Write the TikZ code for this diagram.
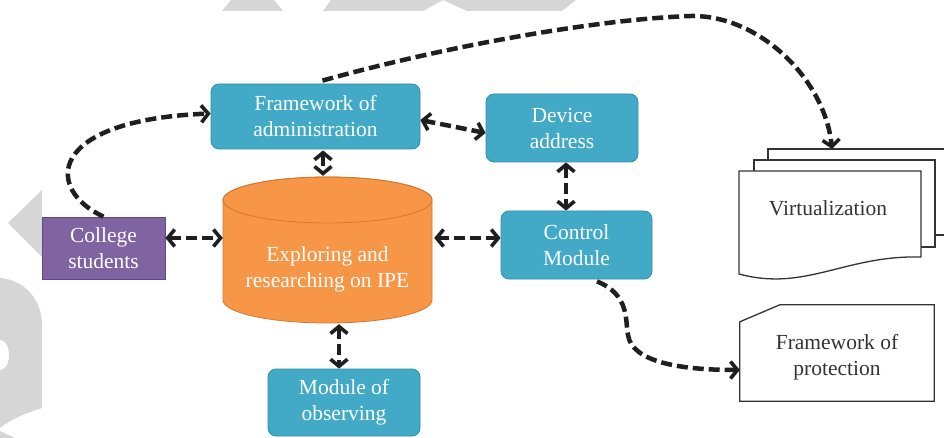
\documentclass[tikz,border=0pt]{standalone}
\usepackage{fontspec}
\setmainfont{Liberation Serif}
\usetikzlibrary{arrows.meta}

\definecolor{boxblue}{HTML}{42AAC7}
\definecolor{boxline}{HTML}{2F8FAB}
\definecolor{cylorange}{HTML}{F79646}
\definecolor{cylline}{HTML}{D4782F}
\definecolor{stupurple}{HTML}{8064A2}
\definecolor{stuline}{HTML}{5E4A80}
\definecolor{docline}{HTML}{333333}
\definecolor{wmgrey}{HTML}{D6D6D6}

\begin{document}
\begin{tikzpicture}[x=1pt, y=-1pt,
    lbl/.style={align=center, font=\fontsize{21.5}{26}\selectfont},
    box/.style={lbl, draw=boxline, fill=boxblue, line width=0.8pt, rounded corners=8pt, text=white, inner sep=0pt},
    doc/.style={draw=docline, fill=white, line width=1.3pt},
    conn/.style={line width=4.5pt, dash pattern=on 11pt off 5pt, black!88},
    both/.style={conn, {Straight Barb[length=7pt,width=17pt,line width=3.6pt]}-{Straight Barb[length=7pt,width=17pt,line width=3.6pt]}},
    one/.style={conn, -{Straight Barb[length=7pt,width=17pt,line width=3.6pt]}}]
    \useasboundingbox (0,0) rectangle (944,438);
    \clip (0,0) rectangle (944,438);

    % Filigrana grigia
    \fill[wmgrey] (222,11) -- (231,0) -- (274,0) -- (283,11) -- cycle;
    \fill[wmgrey] (323,11) -- (331,0) -- (443,0) -- (423,11) -- cycle;
    \fill[wmgrey] (467,11) -- (443,0) -- (576,0) -- (562,11) -- cycle;
    \fill[wmgrey] (8,223) -- (42,190) -- (42,257) -- cycle;
    \fill[wmgrey] (0,278) .. controls (25,280) and (42,300) .. (42,325) -- (42,408)
        .. controls (30,412) and (12,418) .. (0,428) -- cycle;
    \fill[white] (0,355) ellipse [x radius=9, y radius=15];
    \fill[wmgrey] (0,438) -- (0,431) -- (15,438) -- cycle;

    % Blocchi
    \node (admin) [box, minimum width=209pt, minimum height=65pt] at (315.5,116.5) {Framework of\\administration};
    \node (device) [box, minimum width=152pt, minimum height=68pt] at (562,128) {Device\\address};
    \node (control) [box, minimum width=151pt, minimum height=68pt] at (576.5,245) {Control\\Module};
    \node (observe) [box, minimum width=152pt, minimum height=67pt] at (344,402.5) {Module of\\observing};
    \node (college) [lbl, draw=stuline, fill=stupurple, line width=0.8pt, text=white, inner sep=0pt,
        minimum width=123pt, minimum height=62pt] at (103.5,248) {College\\students};

    % Cilindro
    \node (ipe) [minimum width=209pt, minimum height=146pt, inner sep=0pt] at (327.5,250) {};
    \filldraw[fill=cylorange, draw=cylline, line width=0.8pt] (223,200) -- (223,300)
        arc[start angle=180, end angle=0, x radius=104.5, y radius=23] -- (432,200)
        arc[start angle=0, end angle=-180, x radius=104.5, y radius=23] -- cycle;
    \draw[cylline, line width=0.8pt] (327.5,200) ellipse [x radius=104.5, y radius=23];
    \node (ipetxt) [lbl, text=white] at (327.5,269) {Exploring and\\researching on IPE};

    % Documenti
    \draw[doc] (768,149) rectangle (960,235);
    \draw[doc] (754,160) rectangle (935,247);
    \draw[doc] (739,171) -- (921,171) -- (921,257)
        .. controls (845,255) and (805,292) .. (739,274) -- cycle;
    \node (virt) [lbl, text=docline] at (828,208) {Virtualization};
    \coordinate (virttop) at (832,149);

    \node (prot) [lbl, minimum width=194pt, minimum height=96pt, inner sep=0pt] at (837,353) {};
    \draw[doc] (prot.south west) -- ([yshift=-17pt]prot.north west) -- ([xshift=40pt]prot.north west)
        -- (prot.north east) -- (prot.south east) -- cycle;
    \node (prottxt) [lbl, text=docline] at ([yshift=-4pt]prot.center) {Framework of\\protection};

    % Collegamenti
    \draw[both] ([yshift=10pt]college.east) -- ([yshift=12pt]ipe.west);
    \draw[both] ([xshift=7.5pt,yshift=-1pt]admin.south) -- ([xshift=-4.5pt,yshift=1pt]ipe.north);
    \draw[both] ([yshift=-3.5pt]admin.east) -- ([yshift=-5pt]device.west);
    \draw[both] ([xshift=4pt]device.south) -- ([xshift=-10.5pt]control.north);
    \draw[both] ([xshift=2pt,yshift=12pt]ipe.east) -- ([yshift=7pt]control.west);
    \draw[both] ([xshift=11.5pt,yshift=-1pt]ipe.south) -- ([xshift=-5pt]observe.north);

    \draw[one] (college.north) .. controls (45,190) and (45,120) .. ([yshift=3pt]admin.west);
    \draw[one] ([xshift=7pt,yshift=3pt]admin.north) .. controls (450,45) and (600,19) .. (691,16)
        .. controls (760,15) and (825,80) .. (virttop);
    \draw[one] ([xshift=20.5pt,yshift=-2pt]control.south) .. controls (630,295) and (625,320) .. (628,335)
        .. controls (632,362) and (680,370) .. ([yshift=-17pt]prot.west);
\end{tikzpicture}
\end{document}
